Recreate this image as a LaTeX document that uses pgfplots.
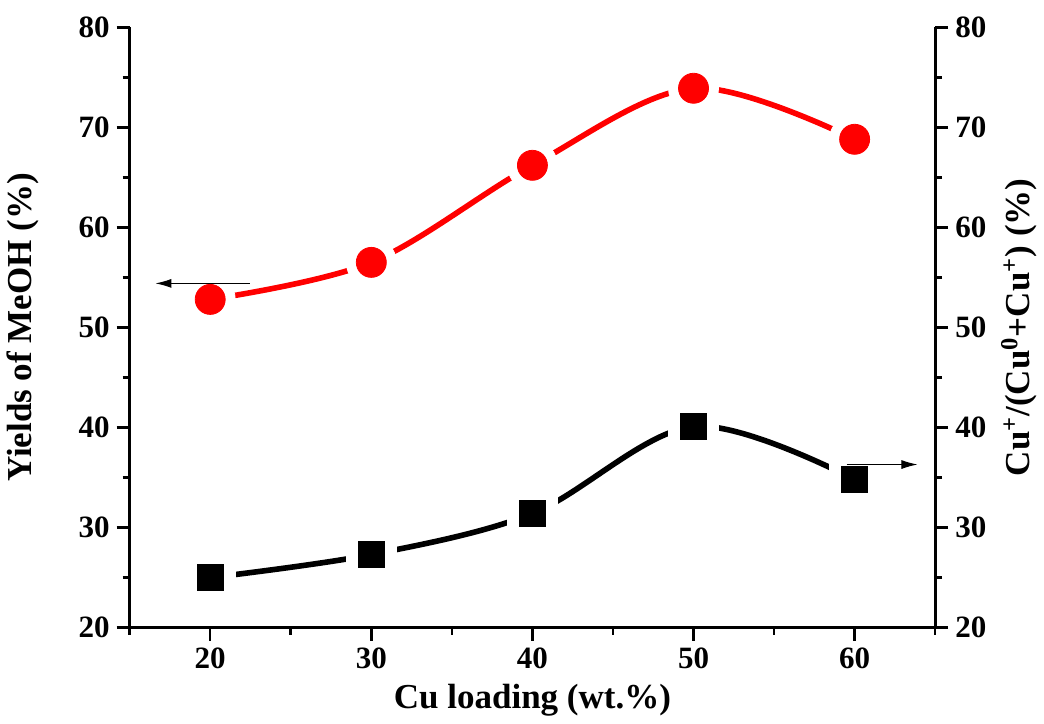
\documentclass[border=0pt]{standalone}
\usepackage{pgfplots}
\pgfplotsset{compat=1.18}
\usepackage{fontspec}
\setmainfont{Liberation Serif}
\usetikzlibrary{arrows.meta}
\definecolor{myred}{RGB}{255,0,0}
\begin{document}
\begin{tikzpicture}
\pgfplotsset{
  common/.style={
    scale only axis, width=402.5pt, height=300pt,
    xmin=15, xmax=65, ymin=20, ymax=80,
    xtick={20,30,40,50,60}, minor xtick={15,25,35,45,55,65},
    ytick={20,30,40,50,60,70,80}, minor ytick={25,35,45,55,65,75},
    tick align=outside,
    major tick length=6.5pt, minor tick length=3.5pt,
    every tick/.style={line width=1.3pt, black},
    axis line style={line width=1.5pt},
    /pgf/number format/assume math mode=true,
    tick label style={font=\fontsize{15.5}{17}\selectfont\bfseries},
    label style={font=\fontsize{17.5}{20}\selectfont\bfseries},
    clip=false,
  },
  bare/.style={
    scale only axis, width=402.5pt, height=300pt,
    xmin=15, xmax=65, ymin=20, ymax=80,
    hide axis, clip=false,
  }
}
\begin{axis}[common,
  axis x line*=bottom, axis y line*=left,
  xlabel={Cu loading (wt.\%)},
  ylabel={Yields of MeOH (\%)},
  xlabel style={yshift=-1pt},
  ylabel style={yshift=13pt},
]
\addplot[myred, line width=2.8pt, smooth, tension=0.55, line cap=round] coordinates {
(20,52.8) (30,56.5) (40,66.2) (50,73.9) (60,68.8)};
\path ([yshift=13.5pt]rel axis cs:0.5,1) circle (0.1pt);
\end{axis}
\begin{axis}[common,
  axis x line=none, axis y line*=right,
  ylabel={Cu\textsuperscript{+}/(Cu\textsuperscript{0}+Cu\textsuperscript{+}) (\%)},
  ylabel style={yshift=-0.5pt},
]
\addplot[black, line width=2.8pt, smooth, tension=0.55, line cap=round] coordinates {
(20,25.0) (30,27.3) (40,31.4) (50,40.1) (60,34.8)};
\end{axis}
\begin{axis}[bare]
\addplot[only marks, mark=*, mark size=12.5pt, color=white, mark options={draw=white, fill=white}] coordinates {
(20,52.8) (30,56.5) (40,66.2) (50,73.9) (60,68.8)};
\addplot[only marks, mark=square*, mark size=12.5pt, color=white, mark options={draw=white, fill=white}] coordinates {
(20,25.0) (30,27.3) (40,31.4) (50,40.1) (60,34.8)};
\end{axis}
\begin{axis}[bare]
\addplot[only marks, mark=*, mark size=7.5pt, mark options={draw=myred, fill=myred}] coordinates {
(20,52.8) (30,56.5) (40,66.2) (50,73.9) (60,68.8)};
\addplot[only marks, mark=square*, mark size=6.6pt, mark options={draw=black, fill=black}] coordinates {
(20,25.0) (30,27.3) (40,31.4) (50,40.1) (60,34.8)};
\draw[line width=0.5pt, -{Latex[length=8pt,width=4.5pt]}] (axis cs:22.45,54.4) -- (axis cs:16.6,54.4);
\draw[line width=0.5pt, -{Latex[length=8pt,width=4.5pt]}] (axis cs:59.5,36.3) -- (axis cs:63.9,36.3);
\end{axis}
\end{tikzpicture}
\end{document}
